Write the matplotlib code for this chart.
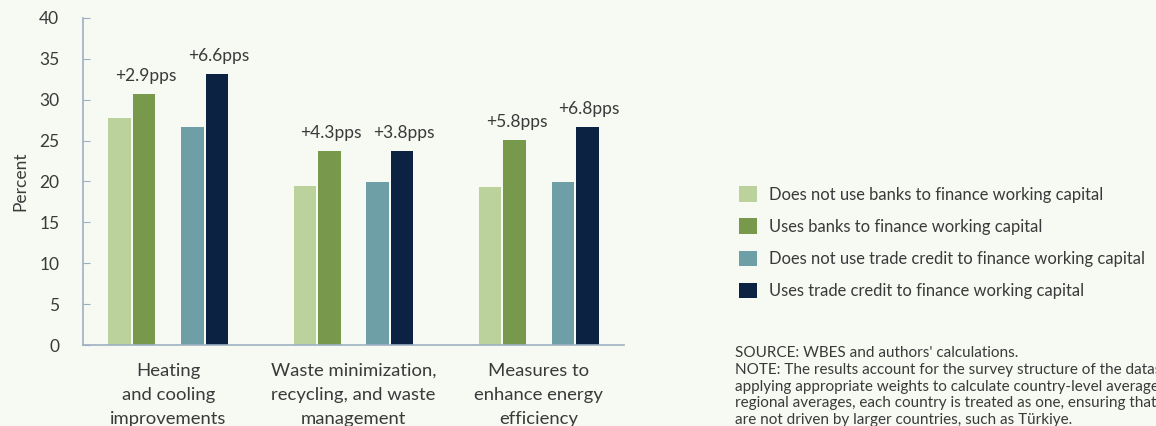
import numpy as np
import matplotlib.pyplot as plt
from matplotlib.patches import Patch

plt.rcParams['font.family'] = ['Lato', 'DejaVu Sans']

categories = ["Heating\nand cooling\nimprovements",
              "Waste minimization,\nrecycling, and waste\nmanagement",
              "Measures to\nenhance energy\nefficiency"]

no_banks = [27.8, 19.4, 19.3]
banks = [30.7, 23.7, 25.1]
no_trade = [26.6, 19.9, 19.9]
trade = [33.2, 23.7, 26.7]

bank_gap = ["+2.9pps", "+4.3pps", "+5.8pps"]
trade_gap = ["+6.6pps", "+3.8pps", "+6.8pps"]

series_labels = ["Does not use banks to finance working capital",
                 "Uses banks to finance working capital",
                 "Does not use trade credit to finance working capital",
                 "Uses trade credit to finance working capital"]
colors = ["#BBD29C", "#78994B", "#6F9FA6", "#0C2243"]

bg = "#F7F9F3"
txt = "#3A3A3A"
axis_col = "#9DB0C2"

fig = plt.figure(figsize=(11.56, 4.26), dpi=100, facecolor=bg)
ax = fig.add_axes([0.0718, 0.190, 0.468, 0.768])
ax.set_facecolor(bg)

x = np.arange(len(categories))
w = 0.121
offsets = [-0.262, -0.130, 0.130, 0.262]
for vals, off, c in zip([no_banks, banks, no_trade, trade], offsets, colors):
    ax.bar(x + off, vals, width=w, color=c, edgecolor='none')

# gap labels above the "uses" bar of each pair
for i in range(len(categories)):
    ax.text(x[i] + offsets[1] + 0.01, banks[i] + 1.2, bank_gap[i], ha='center', va='bottom',
            fontsize=12.5, color=txt)
    ax.text(x[i] + offsets[3] + 0.01, trade[i] + 1.2, trade_gap[i], ha='center', va='bottom',
            fontsize=12.5, color=txt)

ax.set_xlim(-0.46, 2.46)
ax.set_ylim(0, 40)
ax.set_yticks(range(0, 41, 5))
ax.set_xticks(x)
ax.set_xticklabels(categories, fontsize=13.3, color=txt, linespacing=1.62)
ax.tick_params(axis='x', length=0, pad=13)
ax.tick_params(axis='y', direction='in', length=5, color=axis_col, pad=17,
               labelsize=12.5, labelcolor=txt)
for s in ['top', 'right']:
    ax.spines[s].set_visible(False)
for s in ['left', 'bottom']:
    ax.spines[s].set_color(axis_col)
    ax.spines[s].set_linewidth(1.2)
ax.set_ylabel("Percent", fontsize=12.5, color=txt, labelpad=8)

handles = [Patch(facecolor=c, edgecolor='none') for c in colors]
fig.legend(handles, series_labels, loc='upper left', bbox_to_anchor=(0.6325, 0.582),
           frameon=False, fontsize=11.9, handlelength=1.07, handleheight=1.07,
           handletextpad=0.72, labelspacing=0.95, borderpad=0, labelcolor=txt)

note = ("SOURCE: WBES and authors' calculations.\n"
        "NOTE: The results account for the survey structure of the dataset by\n"
        "applying appropriate weights to calculate country-level averages. For\n"
        "regional averages, each country is treated as one, ensuring that results\n"
        "are not driven by larger countries, such as Türkiye.")
fig.text(0.636, 0.187, note, ha='left', va='top', fontsize=11, color=txt,
         linespacing=1.24)

fig.savefig("out.png", dpi=100, facecolor=bg)
